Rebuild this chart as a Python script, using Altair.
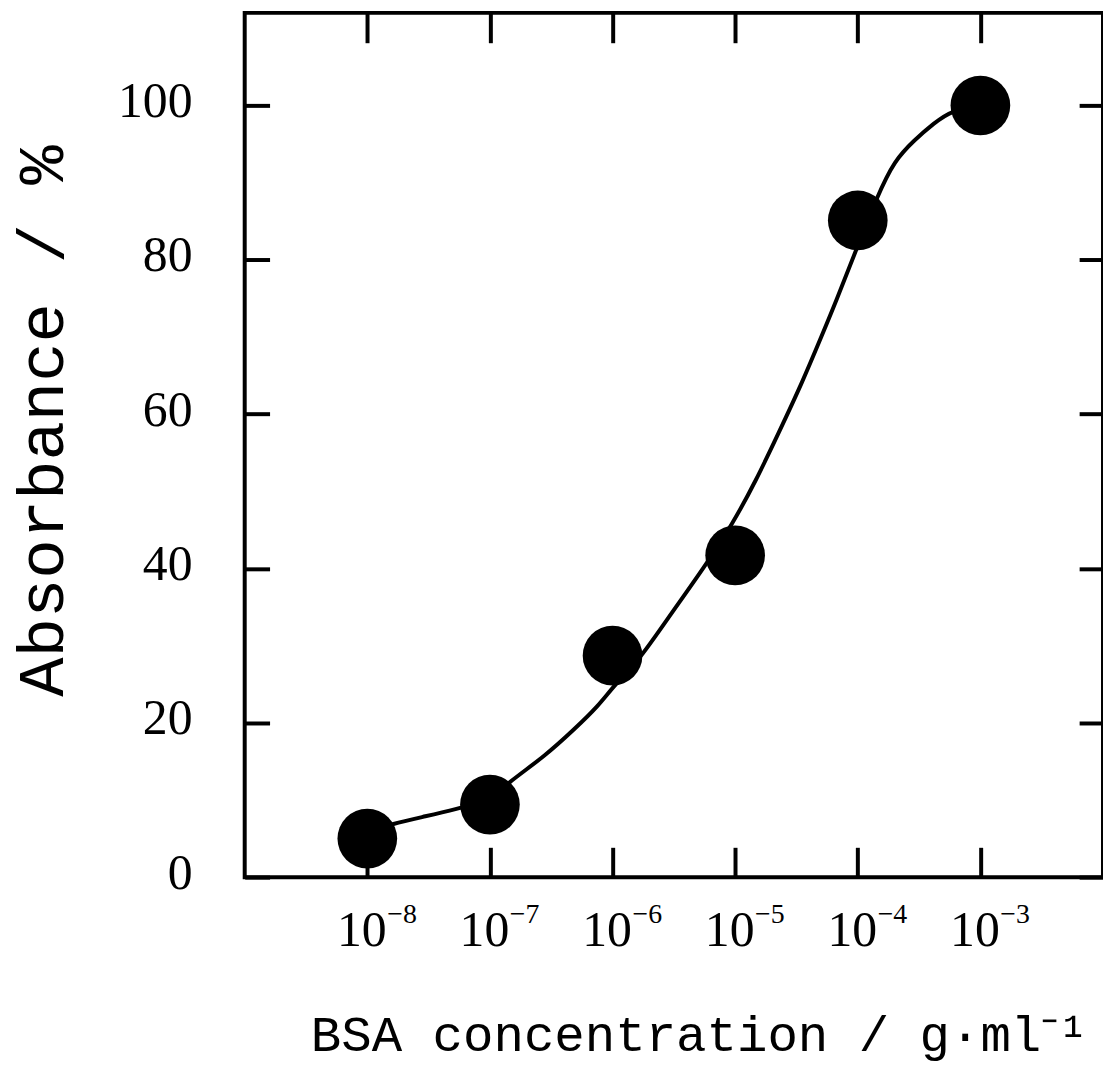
import altair as alt
import pandas as pd

# measured data points (BSA concentration in g/ml, absorbance %)
conc = [1e-8, 1e-7, 1e-6, 1e-5, 1e-4, 1e-3]
absorb = [5.0, 9.4, 28.7, 41.7, 85.1, 100.0]

# fitted curve (log10 of concentration, absorbance %)
curve_exp = [-8.0, -7.80, -7.52, -7.28, -7.0, -6.84, -6.55, -6.31, -6.12, -5.98,
             -5.78, -5.56, -5.25, -5.02, -4.83, -4.65, -4.45, -4.29, -4.18,
             -4.02, -3.84, -3.70, -3.54, -3.38, -3.23, -3.0]
curve_val = [5.8, 6.9, 7.9, 8.8, 10.0, 12.4, 15.7, 19.2, 22.1, 25.0,
             28.2, 33.3, 40.2, 45.8, 51.4, 57.4, 64.2, 70.3, 74.5,
             81.0, 88.3, 92.9, 95.5, 97.7, 99.4, 100.0]

# tick labels
decades = [1e-8, 1e-7, 1e-6, 1e-5, 1e-4, 1e-3]
sup_labels = ["\u22128", "\u22127", "\u22126", "\u22125", "\u22124", "\u22123"]
y_ticks = [0, 20, 40, 60, 80, 100]

pts = pd.DataFrame({"conc": conc, "absorb": absorb})
curve = pd.DataFrame({"conc": [10 ** e for e in curve_exp], "absorb": curve_val})
sups = pd.DataFrame({"conc": decades, "sup": sup_labels})

W, H = 863, 869
xscale = alt.Scale(type="log", domain=[1e-9, 1e-2], nice=False)
yscale = alt.Scale(domain=[0, 112], nice=False, zero=False)

line = alt.Chart(curve).mark_line(color="black", strokeWidth=4, interpolate="basis").encode(
    x=alt.X("conc:Q", scale=xscale, axis=alt.Axis(
        orient="bottom", offset=-30, tickSize=30, values=decades,
        labelExpr="'10'", labelAlign="center", labelBaseline="alphabetic",
        labelPadding=69, labelOffset=-6,
        title="BSA concentration  / g\u00b7ml\u207b\u00b9",
        titleFont="Liberation Mono", titleFontSize=51, titleFontWeight="normal",
        titleX=66, titleY=204, titleBaseline="alphabetic", titleAlign="left")),
    y=alt.Y("absorb:Q", scale=yscale, axis=alt.Axis(
        orient="left", offset=-25, tickSize=25, values=y_ticks,
        labelAlign="right", labelBaseline="middle", labelPadding=53, labelOffset=-4,
        title="Absorbance / %",
        titleFont="Liberation Mono", titleFontSize=66, titleFontWeight="normal",
        titleX=-208, titleY=410, titleAngle=270, titleBaseline="alphabetic",
        titleAlign="center")),
)

points = alt.Chart(pts).mark_point(filled=True, color="black", opacity=1, size=3600, shape="circle").encode(
    x=alt.X("conc:Q", scale=xscale, axis=alt.Axis(
        orient="top", offset=-30, tickSize=30, values=decades, labels=False, title=None)),
    y=alt.Y("absorb:Q", scale=yscale, axis=alt.Axis(
        orient="right", offset=-24, tickSize=24, values=y_ticks, labels=False, title=None)),
)

sup = alt.Chart(sups).mark_text(
    align="left", baseline="alphabetic", dx=20, font="Liberation Serif", fontSize=28, color="black"
).encode(
    x=alt.X("conc:Q", scale=xscale, axis=None),
    y=alt.value(915),
    text="sup:N",
)

chart = alt.layer(line, points, sup).resolve_axis(x="independent", y="independent").properties(
    width=W, height=H,
    autosize=alt.AutoSizeParams(type="none"),
    padding={"left": 238, "top": 2, "right": 0, "bottom": 190},
).configure_view(
    stroke="black", strokeWidth=4
).configure_axis(
    domain=False, grid=False, tickColor="black", tickWidth=4,
    labelColor="black", labelFont="Liberation Serif", labelFontSize=50,
    labelOverlap=False, labelFlush=False, labelBound=False, titleColor="black",
)

chart.save("out.html", embed_options={"renderer": "svg", "actions": False})
